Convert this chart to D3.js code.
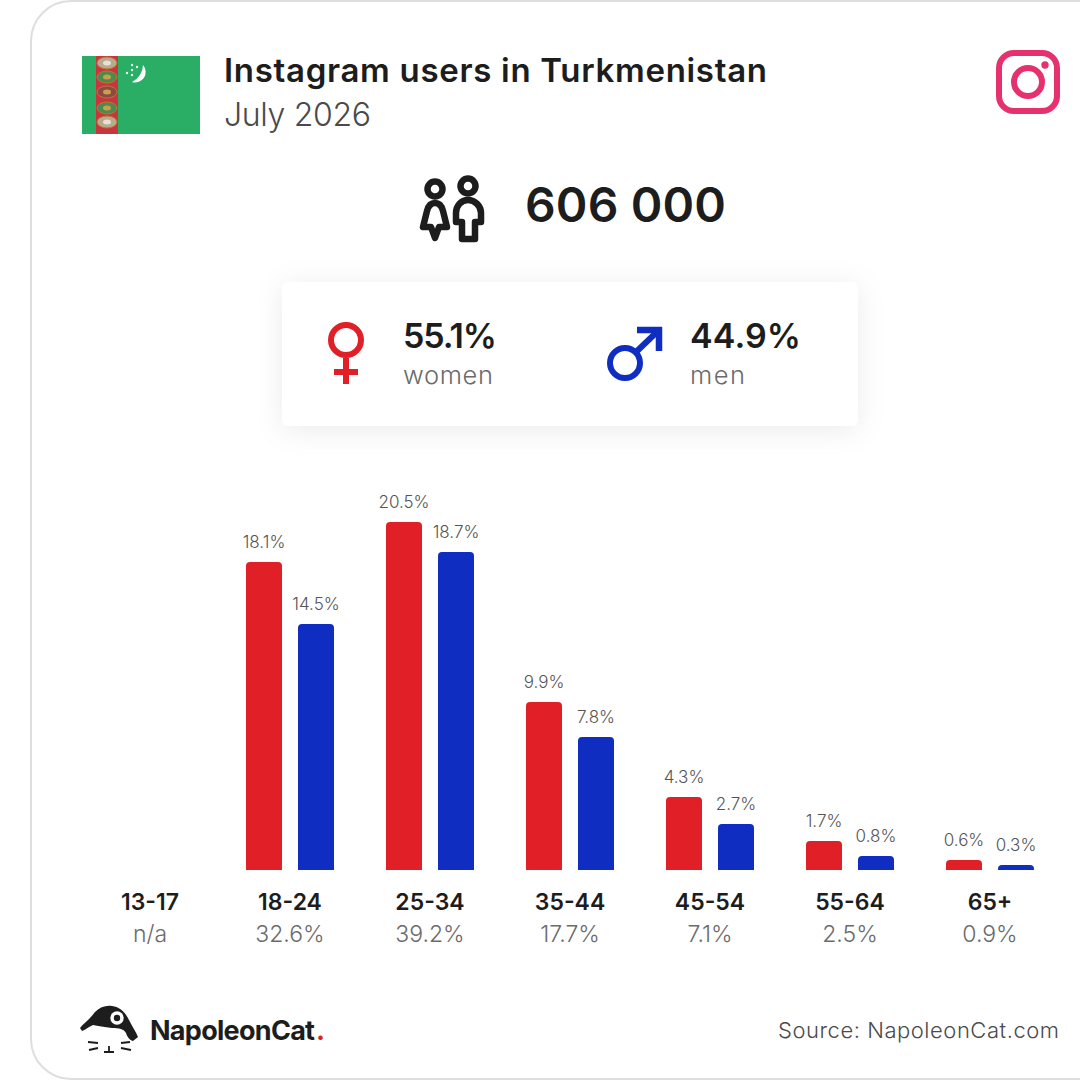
<!DOCTYPE html>
<html>
<head>
<meta charset="utf-8">
<script src="https://cdn.jsdelivr.net/npm/d3@7"></script>
<style>
html, body { margin: 0; padding: 0; background: #fff; }
svg { display: block; font-family: Inter, "Noto Sans", sans-serif; }
</style>
</head>
<body>
<svg id="chart" width="1080" height="1080"></svg>
<script>
// Data
const ageGroups = ['13-17', '18-24', '25-34', '35-44', '45-54', '55-64', '65+'];
const womenShare = [null, 18.1, 20.5, 9.9, 4.3, 1.7, 0.6];
const menShare = [null, 14.5, 18.7, 7.8, 2.7, 0.8, 0.3];
const groupTotals = ['n/a', '32.6%', '39.2%', '17.7%', '7.1%', '2.5%', '0.9%'];
const titleText = 'Instagram users in Turkmenistan';
const dateText = 'July 2026';
const totalUsers = '606 000';
const genderLabels = ['women', 'men'];
const genderTotals = ['55.1%', '44.9%'];
const sourceText = 'Source: NapoleonCat.com';

const RED = '#e01f26', BLUE = '#0f2dc1', INK = '#1d1d1d', GREY = '#6b6b6b';

const svg = d3.select('#chart');

function addText(x, y, str, size, weight, fill, anchor, width) {
    const t = svg.append('text')
        .attr('x', x).attr('y', y)
        .attr('font-size', size)
        .attr('font-weight', weight)
        .attr('fill', fill)
        .attr('text-anchor', anchor || 'start')
        .text(str);
    // Reference face runs wider than Inter, so stretch to the measured width
    if (width) t.attr('textLength', width).attr('lengthAdjust', 'spacing');
    return t;
}

// Card outline, runs off the right edge
svg.append('rect')
    .attr('x', 31).attr('y', 1).attr('width', 1100).attr('height', 1078)
    .attr('rx', 40)
    .attr('fill', '#fff').attr('stroke', '#dedede').attr('stroke-width', 2);

// Flag
const flag = svg.append('g');
flag.append('rect').attr('x', 82).attr('y', 56).attr('width', 118).attr('height', 78).attr('fill', '#2aae66');
flag.append('rect').attr('x', 96).attr('y', 56).attr('width', 22).attr('height', 78).attr('fill', '#c9353f');
[63, 77, 92, 108, 122].forEach((cy, i) => {
    flag.append('ellipse').attr('cx', 107).attr('cy', cy).attr('rx', 10).attr('ry', 6)
        .attr('fill', i == 0 || i == 4 ? '#b9a98e' : (i == 2 ? '#8c4a45' : '#4c8a4f'))
        .attr('stroke', '#b9772f').attr('stroke-width', 1);
    flag.append('ellipse').attr('cx', 107).attr('cy', cy).attr('rx', 4).attr('ry', 2.5)
        .attr('fill', i == 0 || i == 4 ? '#e6e0d6' : '#c9a04a');
});
flag.append('path')
    .attr('d', 'M143,65 A10.5,10.5 0 0 1 132,82 A19,19 0 0 0 143,65 Z')
    .attr('fill', '#fff');
[[132, 65], [137, 67], [127, 73], [132, 70], [132, 75]].forEach(p => {
    flag.append('circle').attr('cx', p[0]).attr('cy', p[1]).attr('r', 1.2).attr('fill', '#e8f6ee');
});

// Header
addText(224, 82, titleText, 33, 600, INK, 'start', 543);
addText(224, 126, dateText, 32, 300, '#4a4a4a', 'start', 147);

// Instagram mark
const ig = svg.append('g').attr('fill', 'none').attr('stroke', '#e5326f').attr('stroke-width', 6);
ig.append('rect').attr('x', 999).attr('y', 53).attr('width', 58).attr('height', 58).attr('rx', 15);
ig.append('circle').attr('cx', 1028).attr('cy', 82).attr('r', 14);
svg.append('circle').attr('cx', 1045).attr('cy', 65).attr('r', 3.7).attr('fill', '#e5326f');

// People icon
const people = svg.append('g').attr('fill', 'none').attr('stroke', INK).attr('stroke-width', 6.5).attr('stroke-linejoin', 'round');
people.append('circle').attr('cx', 435).attr('cy', 189).attr('r', 7.5);
people.append('circle').attr('cx', 468).attr('cy', 186).attr('r', 7.5);
people.append('path').attr('d', 'M435,203 C430,203 428,207 427,211 L423,227 L431,227 L435,238 L439,227 L447,227 L443,211 C442,207 440,203 435,203 Z');
people.append('path').attr('d', 'M468,200 C461,200 456,206 456,213 L456,222 L462,222 L462,239 L475,239 L475,222 L481,222 L481,213 C481,206 475,200 468,200 Z');

addText(525, 222, totalUsers, 48, 600, INK, 'start', 201);

// Gender panel
svg.append('rect')
    .attr('x', 282).attr('y', 282).attr('width', 576).attr('height', 144).attr('rx', 6)
    .attr('fill', '#fff')
    .style('filter', 'drop-shadow(0 4px 14px rgba(0,0,0,0.08))');

// Venus
const venus = svg.append('g').attr('fill', 'none').attr('stroke', RED).attr('stroke-width', 6);
venus.append('circle').attr('cx', 346).attr('cy', 340).attr('r', 15);
venus.append('path').attr('d', 'M346,358 V384 M334,372 H358');

// Mars
const mars = svg.append('g').attr('fill', 'none').attr('stroke', BLUE).attr('stroke-width', 6);
mars.append('circle').attr('cx', 625).attr('cy', 363).attr('r', 15);
mars.append('path').attr('d', 'M636,352 L659,330');
mars.append('path').attr('d', 'M637,330 H659 V351').attr('stroke-width', 6.5);

addText(403, 348, genderTotals[0], 34, 600, INK, 'start', 94);
addText(403, 384, genderLabels[0], 25.5, 300, GREY, 'start', 90);
addText(690, 348, genderTotals[1], 34, 600, INK, 'start', 111);
addText(690, 384, genderLabels[1], 25.5, 300, GREY, 'start', 55);

// Chart scales
const x = d3.scalePoint().domain(ageGroups).range([150, 990]);
const y = d3.scaleLinear().domain([0, 20]).rangeRound([870, 530]);
const BAR_W = 36, BAR_GAP = 8, R = 4;

function barPath(x0, value) {
    const top = y(value), base = y(0), r = Math.min(R, base - top);
    return `M${x0},${base} V${top + r} Q${x0},${top} ${x0 + r},${top} H${x0 + BAR_W - r} Q${x0 + BAR_W},${top} ${x0 + BAR_W},${top + r} V${base} Z`;
}

const series = [
    { values: womenShare, color: RED, offset: -(BAR_GAP + BAR_W) },
    { values: menShare, color: BLUE, offset: BAR_GAP }
];

series.forEach(s => {
    const rows = ageGroups.map((g, i) => ({ g: g, v: s.values[i] })).filter(d => d.v !== null);
    svg.append('g').selectAll('path').data(rows).join('path')
        .attr('d', d => barPath(x(d.g) + s.offset, d.v))
        .attr('fill', s.color);
    svg.append('g').selectAll('text').data(rows).join('text')
        .attr('x', d => x(d.g) + s.offset + BAR_W / 2)
        .attr('y', d => y(d.v) - 14)
        .attr('text-anchor', 'middle')
        .attr('font-size', 17)
        .attr('font-weight', 300)
        .attr('fill', '#555')
        .text(d => d.v.toFixed(1) + '%');
});

// Category labels
svg.append('g').selectAll('text').data(ageGroups).join('text')
    .attr('x', d => x(d)).attr('y', 910)
    .attr('text-anchor', 'middle')
    .attr('font-size', 23).attr('font-weight', 600).attr('fill', INK)
    .text(d => d);
svg.append('g').selectAll('text').data(ageGroups).join('text')
    .attr('x', d => x(d)).attr('y', 942)
    .attr('text-anchor', 'middle')
    .attr('font-size', 23).attr('font-weight', 300).attr('fill', GREY)
    .text((d, i) => groupTotals[i]);

// NapoleonCat logo
const logo = svg.append('g');
logo.append('path')
    .attr('d', 'M80,1028 C84,1023 91,1018 95,1012 C100,1007 106,1005 112,1006 C120,1007 125,1012 129,1020 C132,1026 136,1032 138,1037 L133,1041 C129,1040 127,1036 126,1033 C124,1029 119,1028 112,1028 C104,1027 98,1026 93,1025 C88,1027 85,1030 82,1031 Z')
    .attr('fill', INK);
logo.append('circle').attr('cx', 117).attr('cy', 1018).attr('r', 6.7).attr('fill', '#fff');
logo.append('circle').attr('cx', 117).attr('cy', 1018).attr('r', 3.2).attr('fill', INK);
logo.append('path')
    .attr('d', 'M88,1042 L98,1043 M89,1050 L98,1048 M130,1042 L121,1043 M131,1050 L121,1048 M109,1046 V1052 M104,1052 H114')
    .attr('stroke', INK).attr('stroke-width', 1.8).attr('fill', 'none');
addText(150, 1040, 'NapoleonCat', 27, 700, INK, 'start', 165);
addText(316, 1040, '.', 27, 700, RED);

addText(1059, 1038, sourceText, 22, 300, '#4a4a4a', 'end', 281);
</script>
</body>
</html>
